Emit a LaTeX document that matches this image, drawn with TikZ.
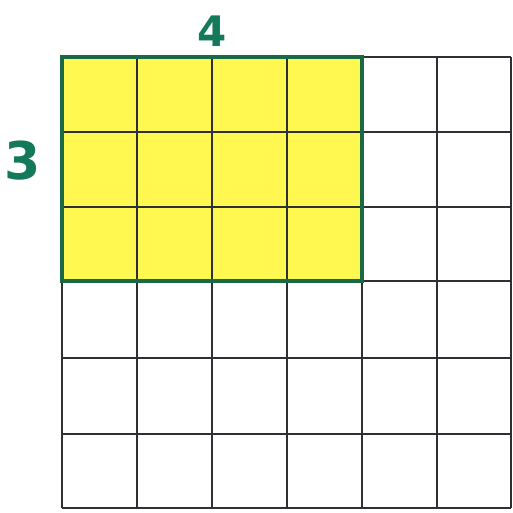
\documentclass[tikz,border=0pt]{standalone}
\usepackage{fontspec}
\setmainfont{DejaVu Sans}
\definecolor{gridc}{RGB}{45,48,52}
\definecolor{bordc}{RGB}{25,105,70}
\definecolor{labc}{RGB}{20,120,90}
\definecolor{hilite}{RGB}{255,248,80}
\tikzset{
  gridline/.style={draw=gridc, line width=1.8pt},
  areabox/.style={fill=hilite, draw=bordc, line width=3.6pt},
  dimlabel/.style={text=labc, font=\bfseries\fontsize{42}{42}\selectfont, inner sep=0pt}
}
\begin{document}
\begin{tikzpicture}[x=1pt,y=-1pt]
\useasboundingbox (0,0) rectangle (513,512);
\fill[white] (0,0) rectangle (513,512);
% highlighted 4x3 area
\path[areabox] (62,57) rectangle (362,281);
% grid
\foreach \x in {62,137,212,287,362,437,511} {
  \draw[gridline] (\x,57) -- (\x,508);
}
\foreach \y in {57,132,207,281,358,434,508} {
  \draw[gridline] (62,\y) -- (511,\y);
}
% border on top
\draw[draw=bordc, line width=3.6pt] (62,57) rectangle (362,281);
% labels
\node[dimlabel] (four) at (212,31) {4};
\node[dimlabel, font=\bfseries\fontsize{52}{52}\selectfont] (three) at (23,161) {3};
\end{tikzpicture}
\end{document}
